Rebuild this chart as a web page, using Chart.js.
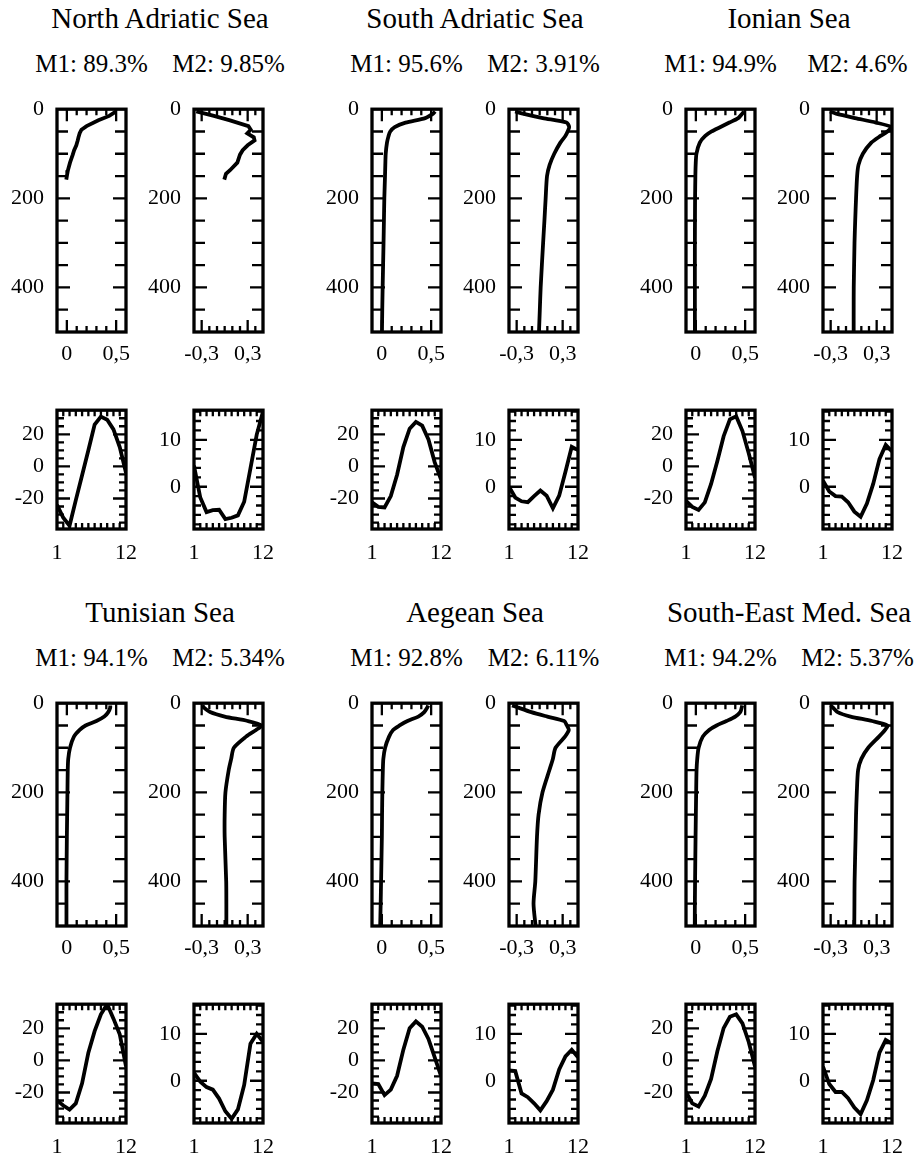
<!DOCTYPE html>
<html lang="en">
<head>
<meta charset="UTF-8" />
<title>EOF modes by sub-basin</title>
<script src="https://cdn.jsdelivr.net/npm/chart.js@4.4.1/dist/chart.umd.min.js"></script>
<style>
  body {
    margin: 0;
    width: 919px;
    height: 1157px;
    position: relative;
    overflow: hidden;
    background: #fff;
    font-family: "Liberation Serif", "Times New Roman", serif;
    color: #000;
  }
  .label {
    position: absolute;
    width: 400px;
    text-align: center;
    white-space: nowrap;
    line-height: 1;
  }
  .title { font-size: 29px; }
  .sub { font-size: 25px; }
  canvas { position: absolute; }
</style>
</head>
<body>
<script>
// sea names and explained variance of the two modes
const seaNames = ['North Adriatic Sea', 'South Adriatic Sea', 'Ionian Sea', 'Tunisian Sea', 'Aegean Sea', 'South-East Med. Sea'];
const m1Share = ['89.3', '95.6', '94.9', '94.1', '92.8', '94.2'];
const m2Share = ['9.85', '3.91', '4.6', '5.34', '6.11', '5.37'];

const months = [1, 2, 3, 4, 5, 6, 7, 8, 9, 10, 11, 12];
const depthsNorth = [5, 15, 25, 38, 46, 54, 63, 70, 81, 92, 102, 120, 137, 145, 158];
const depths = [5, 10, 20, 30, 40, 50, 60, 75, 100, 125, 150, 200, 250, 300, 400, 450, 500];

// vertical profiles of the modes
const northM1Profile = [0.50, 0.43, 0.32, 0.20, 0.148, 0.13, 0.118, 0.11, 0.096, 0.074, 0.06, 0.032, 0.011, 0.004, -0.006];
const northM2Profile = [-0.37, -0.14, 0.07, 0.31, 0.34, 0.295, 0.38, 0.39, 0.30, 0.235, 0.20, 0.165, 0.07, 0.017, -0.005];
const southAdrM1Profile = [0.54, 0.52, 0.44, 0.24, 0.13, 0.085, 0.068, 0.052, 0.039, 0.035, 0.032, 0.025, 0.021, 0.017, 0.008, 0.004, 0.001];
const southAdrM2Profile = [-0.32, -0.22, 0.04, 0.35, 0.385, 0.365, 0.335, 0.27, 0.19, 0.13, 0.096, 0.078, 0.062, 0.045, 0.013, 0.002, -0.009];
const ionianM1Profile = [0.49, 0.47, 0.43, 0.34, 0.25, 0.16, 0.095, 0.04, 0.006, -0.002, -0.005, -0.008, -0.009, -0.01, -0.01, -0.01, -0.01];
const ionianM2Profile = [-0.31, -0.23, 0.02, 0.29, 0.49, 0.44, 0.35, 0.23, 0.12, 0.063, 0.045, 0.031, 0.02, 0.011, 0.001, 0.0, 0.0];
const tunisianM1Profile = [0.44, 0.44, 0.42, 0.38, 0.3, 0.19, 0.13, 0.072, 0.032, 0.014, 0.009, 0.006, 0.003, 0.0, -0.004, -0.004, -0.004];
const tunisianM2Profile = [-0.29, -0.27, -0.19, 0.0, 0.3, 0.48, 0.41, 0.28, 0.12, 0.085, 0.053, 0.01, 0.0, 0.0, 0.02, 0.022, 0.022];
const aegeanM1Profile = [0.47, 0.46, 0.43, 0.37, 0.26, 0.18, 0.114, 0.073, 0.033, 0.015, 0.01, 0.005, 0.002, 0.0, -0.008, -0.012, -0.017];
const aegeanM2Profile = [-0.36, -0.28, -0.11, 0.10, 0.32, 0.355, 0.38, 0.33, 0.207, 0.172, 0.127, 0.037, -0.014, -0.035, -0.057, -0.08, -0.053];
const semM1Profile = [0.47, 0.465, 0.45, 0.4, 0.31, 0.21, 0.135, 0.07, 0.028, 0.014, 0.007, 0.003, 0.0, -0.003, -0.008, -0.01, -0.011];
const semM2Profile = [-0.3, -0.27, -0.21, -0.04, 0.24, 0.44, 0.41, 0.33, 0.19, 0.1, 0.058, 0.041, 0.031, 0.025, 0.012, 0.01, 0.008];

// monthly amplitudes of the modes
const northM1Season = [-24, -32, -37, -21, -5.5, 10, 26, 31, 29, 23, 12, -4];
const northM2Season = [4.5, -2.3, -5.4, -5.0, -4.9, -6.9, -6.6, -6.1, -3.2, 3.9, 11.1, 16];
const southAdrM1Season = [-22.4, -25.2, -25.6, -18.5, -5.2, 12, 23.5, 27.7, 25.4, 16.8, 2.5, -8];
const southAdrM2Season = [0, -2.3, -3.1, -3.3, -2.0, -0.8, -1.9, -4.6, -1.9, 3.2, 8.5, 7.8];
const ionianM1Season = [-21.4, -25.2, -27.1, -22.4, -10.9, 3.4, 18.8, 29.3, 31.2, 22, 8.2, -7.1];
const ionianM2Season = [1.3, -1.0, -2.0, -2.1, -3.3, -5.3, -6.4, -3.6, 0.6, 5.9, 8.9, 7.5];
const tunisianM1Season = [-24.9, -28.1, -30.6, -26.8, -14.3, 4.8, 18.2, 28.7, 35, 26, 16.3, -3.8];
const tunisianM2Season = [1.7, -0.2, -1.35, -1.9, -3.8, -6.5, -8.1, -6.1, -0.9, 7.9, 10.0, 8.3];
const aegeanM1Season = [-14.3, -14.7, -21.6, -18.2, -9.6, 6.7, 20.1, 24.3, 21.0, 13.4, 1.9, -9.6];
const aegeanM2Season = [2.2, 2.05, -2.7, -3.5, -4.8, -6.3, -4.35, -1.9, 2.4, 5.2, 6.6, 5.0];
const semM1Season = [-19.7, -26.8, -28.7, -22.0, -11.5, 5.7, 20.1, 27.2, 28.7, 23.0, 11.5, -3.8];
const semM2Season = [3.0, -0.7, -2.4, -2.4, -3.7, -5.7, -7.1, -4.15, 0.1, 6.0, 8.7, 7.9];

const seas = [
  { depth: depthsNorth, p1: northM1Profile, p2: northM2Profile, s1: northM1Season, s2: northM2Season, tension: 0 },
  { depth: depths, p1: southAdrM1Profile, p2: southAdrM2Profile, s1: southAdrM1Season, s2: southAdrM2Season, tension: 0.25 },
  { depth: depths, p1: ionianM1Profile, p2: ionianM2Profile, s1: ionianM1Season, s2: ionianM2Season, tension: 0.25 },
  { depth: depths, p1: tunisianM1Profile, p2: tunisianM2Profile, s1: tunisianM1Season, s2: tunisianM2Season, tension: 0.25 },
  { depth: depths, p1: aegeanM1Profile, p2: aegeanM2Profile, s1: aegeanM1Season, s2: aegeanM2Season, tension: 0.25 },
  { depth: depths, p1: semM1Profile, p2: semM2Profile, s1: semM1Season, s2: semM2Season, tension: 0.25 }
];

// page layout
const L = 52, R = 22, T = 16, B = 42;
const boxW = 69, profH = 233, seasH = 129;
const colLeft = [57, 372, 686];
const modeOffset = 137;
const profTop = [99, 693];
const seasTop = [400, 994];
const titleTop = [4, 598];
const subTop = [51, 645];

Chart.defaults.font.family = "'Liberation Serif', 'Times New Roman', serif";
Chart.defaults.color = '#000';

// inward ticks on all four sides plus the heavy frame
const frameTicks = {
  id: 'frameTicks',
  afterDraw(chart, args, opts) {
    const { ctx, chartArea: a, scales: { x, y } } = chart;
    ctx.save();
    ctx.strokeStyle = '#000';
    ctx.lineWidth = 2.3;
    ctx.beginPath();
    for (const t of opts.x) {
      const px = x.getPixelForValue(t.v);
      ctx.moveTo(px, a.bottom); ctx.lineTo(px, a.bottom - t.len);
      ctx.moveTo(px, a.top); ctx.lineTo(px, a.top + t.len);
    }
    for (const t of opts.y) {
      const py = y.getPixelForValue(t.v);
      ctx.moveTo(a.left, py); ctx.lineTo(a.left + t.len, py);
      ctx.moveTo(a.right, py); ctx.lineTo(a.right - t.len, py);
    }
    ctx.stroke();
    ctx.lineWidth = 3.3;
    ctx.strokeRect(a.left, a.top, a.right - a.left, a.bottom - a.top);
    ctx.restore();
  }
};

function tickSet(from, to, step, majors, minorLen, majorLen) {
  const out = [];
  for (let v = from; v <= to + 1e-9; v += step) {
    const r = Math.round(v * 1000) / 1000;
    const major = majors.some(m => Math.abs(m - r) < 1e-9);
    out.push({ v: r, len: major ? majorLen : minorLen });
  }
  return out;
}

function axis(position, min, max, labels, pad, reverse) {
  const horizontal = position === 'bottom';
  return {
    type: 'linear',
    position,
    min,
    max,
    reverse: !!reverse,
    grid: { display: false, drawTicks: false },
    border: { display: false },
    ticks: {
      color: '#000',
      font: { size: 22 },
      padding: pad,
      autoSkip: false,
      maxRotation: 0,
      callback: v => String(v).replace('.', ',')
    },
    afterBuildTicks: s => { s.ticks = labels.map(value => ({ value })); },
    afterFit: s => { if (horizontal) s.height = B; else s.width = L; }
  };
}

function addCanvas(left, top, h) {
  const c = document.createElement('canvas');
  c.width = L + boxW + R;
  c.height = T + h + B;
  c.style.left = (left - L) + 'px';
  c.style.top = (top - T) + 'px';
  document.body.appendChild(c);
  return c;
}

function addText(cls, text, cx, top) {
  const d = document.createElement('div');
  d.className = 'label ' + cls;
  d.style.left = (cx - 200) + 'px';
  d.style.top = top + 'px';
  d.textContent = text;
  document.body.appendChild(d);
}

function drawChart(canvas, points, tension, xAxis, yAxis, ticks) {
  new Chart(canvas, {
    type: 'scatter',
    data: {
      datasets: [{
        data: points,
        showLine: true,
        borderColor: '#000',
        borderWidth: 3.8,
        pointRadius: 0,
        tension,
        fill: false
      }]
    },
    options: {
      responsive: false,
      animation: false,
      events: [],
      layout: { padding: { top: T, right: R, left: 0, bottom: 0 } },
      plugins: { legend: { display: false }, tooltip: { enabled: false }, frameTicks: ticks },
      scales: { x: xAxis, y: yAxis }
    },
    plugins: [frameTicks]
  });
}

const depthTicks = tickSet(50, 450, 50, [200, 400], 11, 13);
const m1ValueTicks = tickSet(0, 0.5, 0.1, [0, 0.5], 6, 12);
const m2ValueTicks = tickSet(-0.3, 0.4, 0.1, [-0.3, 0.3], 6, 12);
const monthTicks = tickSet(2, 11, 1, [], 6, 6);
const m1SeasonTicks = tickSet(-35, 30, 5, [-20, 0, 20], 7, 13);
const m2SeasonTicks = tickSet(-8, 16, 2, [0, 10], 7, 13);

seas.forEach((sea, i) => {
  const row = Math.floor(i / 3);
  const x1 = colLeft[i % 3];
  const x2 = x1 + modeOffset;

  addText('title', seaNames[i], (x1 + x2 + boxW) / 2, titleTop[row]);
  addText('sub', 'M1: ' + m1Share[i] + '%', x1 + boxW / 2, subTop[row]);
  addText('sub', 'M2: ' + m2Share[i] + '%', x2 + boxW / 2, subTop[row]);

  // depth profiles
  drawChart(addCanvas(x1, profTop[row], profH),
    sea.depth.map((d, k) => ({ x: sea.p1[k], y: d })), sea.tension,
    axis('bottom', -0.1, 0.6, [0, 0.5], 9),
    axis('left', 0, 500, [0, 200, 400], 13, true),
    { x: m1ValueTicks, y: depthTicks });
  drawChart(addCanvas(x2, profTop[row], profH),
    sea.depth.map((d, k) => ({ x: sea.p2[k], y: d })), sea.tension,
    axis('bottom', -0.4, 0.5, [-0.3, 0.3], 9),
    axis('left', 0, 500, [0, 200, 400], 13, true),
    { x: m2ValueTicks, y: depthTicks });

  // seasonal cycles
  drawChart(addCanvas(x1, seasTop[row], seasH),
    months.map((m, k) => ({ x: m, y: sea.s1[k] })), 0,
    axis('bottom', 1, 12, [1, 12], 11),
    axis('left', -39, 35, [-20, 0, 20], 13),
    { x: monthTicks, y: m1SeasonTicks });
  drawChart(addCanvas(x2, seasTop[row], seasH),
    months.map((m, k) => ({ x: m, y: sea.s2[k] })), 0,
    axis('bottom', 1, 12, [1, 12], 11),
    axis('left', -9, 16.3, [0, 10], 13),
    { x: monthTicks, y: m2SeasonTicks });
});
</script>
</body>
</html>
